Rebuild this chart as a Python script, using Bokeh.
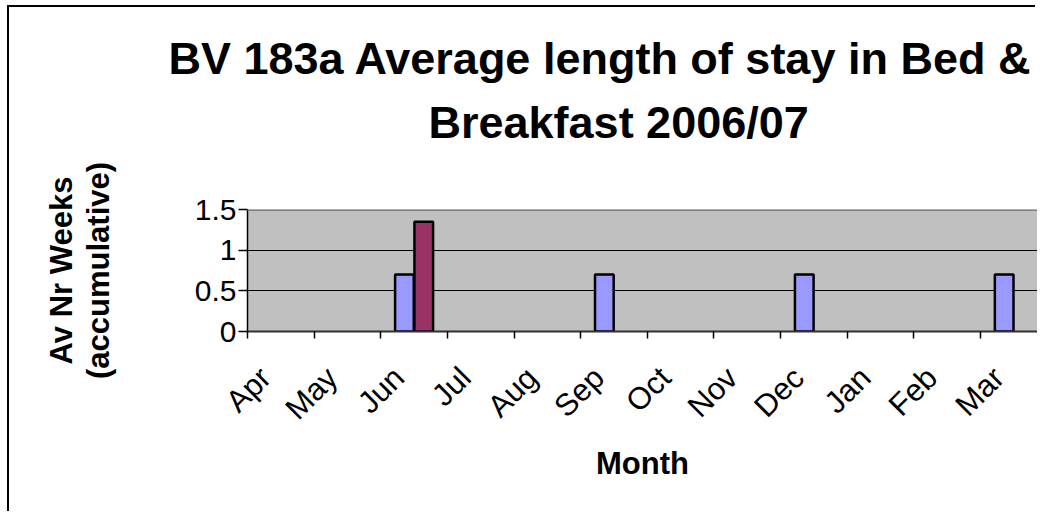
import math
import numpy as np
from bokeh.plotting import figure
from bokeh.models import Range1d, FixedTicker, Span, Title, ColumnDataSource
from bokeh.transform import dodge
from bokeh.embed import file_html
from bokeh.resources import INLINE

# ---- data ----
months = ["Apr", "May", "Jun", "Jul", "Aug", "Sep", "Oct", "Nov", "Dec", "Jan", "Feb", "Mar"]
series_blue = [None, None, 0.7, None, None, 0.7, None, None, 0.7, None, None, 0.7]
series_maroon = [None, None, 1.35, None, None, None, None, None, None, None, None, None]
y_ticks = [0, 0.5, 1, 1.5]
y_tick_labels = ["0", "0.5", "1", "1.5"]
title_lines = ["BV 183a Average length of stay in Bed &", "Breakfast  2006/07"]
x_title = "Month"
y_title = "Av Nr Weeks\n(accumulative)"

FONT = "Liberation Sans"


def to_nan(vals):
    return [np.nan if v is None else v for v in vals]


centers = [i + 0.5 for i in range(len(months))]
src = ColumnDataSource(dict(x=centers, blue=to_nan(series_blue), maroon=to_nan(series_maroon)))

p = figure(width=1028, height=506, output_backend="svg", toolbar_location=None,
           x_range=Range1d(0, 11.855), y_range=Range1d(0, 1.5), title=None,
           min_border_left=238, min_border_top=202, min_border_bottom=182, min_border_right=0)
p.styles = {"box-shadow": "-2px -2px 0px 0px black",
            "margin-left": "9px", "margin-top": "7px"}

p.background_fill_color = "#C0C0C0"
p.border_fill_color = "white"
p.outline_line_color = None

bw = 0.28
p.vbar(x=dodge("x", -0.145, range=p.x_range), top="blue", width=bw, bottom=0, source=src,
       fill_color="#9999FF", line_color="black", line_width=2.5)
p.vbar(x=dodge("x", 0.145, range=p.x_range), top="maroon", width=bw, bottom=0, source=src,
       fill_color="#993366", line_color="black", line_width=2.5)

# grid
p.xgrid.visible = False
p.ygrid.ticker = FixedTicker(ticks=[t for t in y_ticks if 0 < t < max(y_ticks)])
p.ygrid.grid_line_color = "black"
p.ygrid.grid_line_width = 1
p.add_layout(Span(location=max(y_ticks), dimension="width", line_color="#808080", line_width=3))

# y axis
ya = p.yaxis[0]
ya.ticker = FixedTicker(ticks=y_ticks)
ya.major_label_overrides = {t: s for t, s in zip(y_ticks, y_tick_labels)}
ya.major_tick_out = 9
ya.major_tick_in = 0
ya.minor_tick_line_color = None
ya.axis_line_color = "black"
ya.axis_line_width = 1.5
ya.major_tick_line_color = "black"
ya.major_tick_line_width = 1.5
ya.major_label_text_font = FONT
ya.major_label_text_font_size = "30px"
ya.major_label_text_color = "black"
ya.major_label_standoff = 2
ya.axis_label = y_title
ya.axis_label_text_font = FONT
ya.axis_label_text_font_size = "31px"
ya.axis_label_text_font_style = "bold"
ya.axis_label_text_color = "black"
ya.axis_label_text_line_height = 1.05
ya.axis_label_standoff = 76

# x axis
xa = p.xaxis[0]
label_pos = [round(c - 0.23, 3) for c in centers]
xa.ticker = FixedTicker(ticks=label_pos, minor_ticks=list(range(len(months) + 1)))
xa.major_label_overrides = {t: m for t, m in zip(label_pos, months)}
xa.major_tick_line_color = None
xa.major_tick_out = 0
xa.major_tick_in = 0
xa.minor_tick_out = 7
xa.minor_tick_in = 0
xa.minor_tick_line_color = "black"
xa.minor_tick_line_width = 1.5
xa.axis_line_color = "#303030"
xa.axis_line_width = 2
xa.major_label_orientation = math.pi / 4
xa.major_label_standoff = 34
xa.major_label_text_font = FONT
xa.major_label_text_font_size = "31px"
xa.major_label_text_color = "black"
xa.axis_label = x_title
xa.axis_label_text_font = FONT
xa.axis_label_text_font_size = "31px"
xa.axis_label_text_font_style = "bold"
xa.axis_label_text_color = "black"
xa.axis_label_standoff = 4

# title: spacer, then line 2, then line 1 (stacked outward from the frame)
p.add_layout(Title(text=" ", text_font_size="1px", standoff=59), "above")
p.add_layout(Title(text=title_lines[1], align="left", offset=181, standoff=0,
                   text_font=FONT, text_font_size="45px", text_font_style="bold",
                   text_color="black"), "above")
p.add_layout(Title(text=title_lines[0], align="left", offset=-79, standoff=22,
                   text_font=FONT, text_font_size="45px", text_font_style="bold",
                   text_color="black"), "above")

open("out.html", "w").write(file_html(p, INLINE))
